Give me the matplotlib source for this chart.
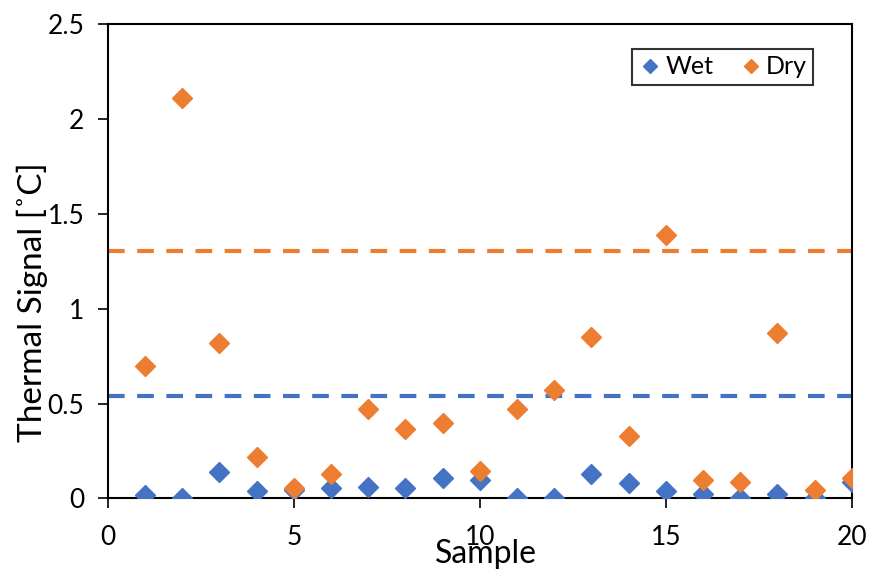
import numpy as np
import matplotlib
matplotlib.use("Agg")
import matplotlib.pyplot as plt

plt.rcParams['font.family'] = ['Lato', 'DejaVu Sans']

# sample numbers and thermal signals
sample = np.arange(1, 21)
wet = [0.02, 0.0, 0.14, 0.04, 0.045, 0.053, 0.061, 0.053, 0.109, 0.10,
       0.005, 0.0, 0.128, 0.084, 0.04, 0.026, 0.0, 0.026, 0.0, 0.085]
dry = [0.70, 2.11, 0.82, 0.22, 0.056, 0.13, 0.47, 0.365, 0.40, 0.145,
       0.47, 0.57, 0.85, 0.33, 1.39, 0.096, 0.088, 0.87, 0.044, 0.109]
wet_threshold = 0.541
dry_threshold = 1.304

blue = "#4472C4"
orange = "#ED7D31"

fig = plt.figure(figsize=(8.7, 5.71), dpi=100)
ax = fig.add_axes([0.124, 0.127, 0.855, 0.831])

ax.plot(sample, wet, "D", color=blue, markersize=10.5, label="Wet", zorder=3)
ax.plot(sample, dry, "D", color=orange, markersize=10.5, label="Dry", zorder=3)
ax.axhline(wet_threshold, color=blue, lw=3, ls=(0, (4, 3)), zorder=2)
ax.axhline(dry_threshold, color=orange, lw=3, ls=(0, (4, 3)), zorder=2)

ax.set_xlim(0, 20)
ax.set_ylim(0, 2.5)
ax.set_xticks([0, 5, 10, 15, 20])
ax.set_yticks([0, 0.5, 1, 1.5, 2, 2.5])
ax.set_yticklabels(["0", "0.5", "1", "1.5", "2", "2.5"])
ax.tick_params(labelsize=19, length=7, width=1.2, direction="out")
ax.tick_params(axis="x", pad=12)
ax.tick_params(axis="y", pad=10)
for s in ax.spines.values():
    s.set_linewidth(1.5)

ax.set_xlabel("Sample", fontsize=23)
ax.set_ylabel("Thermal Signal [˚C]", fontsize=24)
ax.xaxis.set_label_coords(0.508, -0.085)
ax.yaxis.set_label_coords(-0.081, 0.413)

leg = ax.legend(loc="upper right", bbox_to_anchor=(0.948, 0.947), ncol=2,
                fontsize=18, frameon=True, fancybox=False, markerscale=0.7,
                handletextpad=0.1, columnspacing=1.0, borderpad=0.25,
                handlelength=1.0, borderaxespad=0)
leg.get_frame().set_edgecolor("black")
leg.get_frame().set_linewidth(1.5)

fig.savefig("out.png", dpi=100)
